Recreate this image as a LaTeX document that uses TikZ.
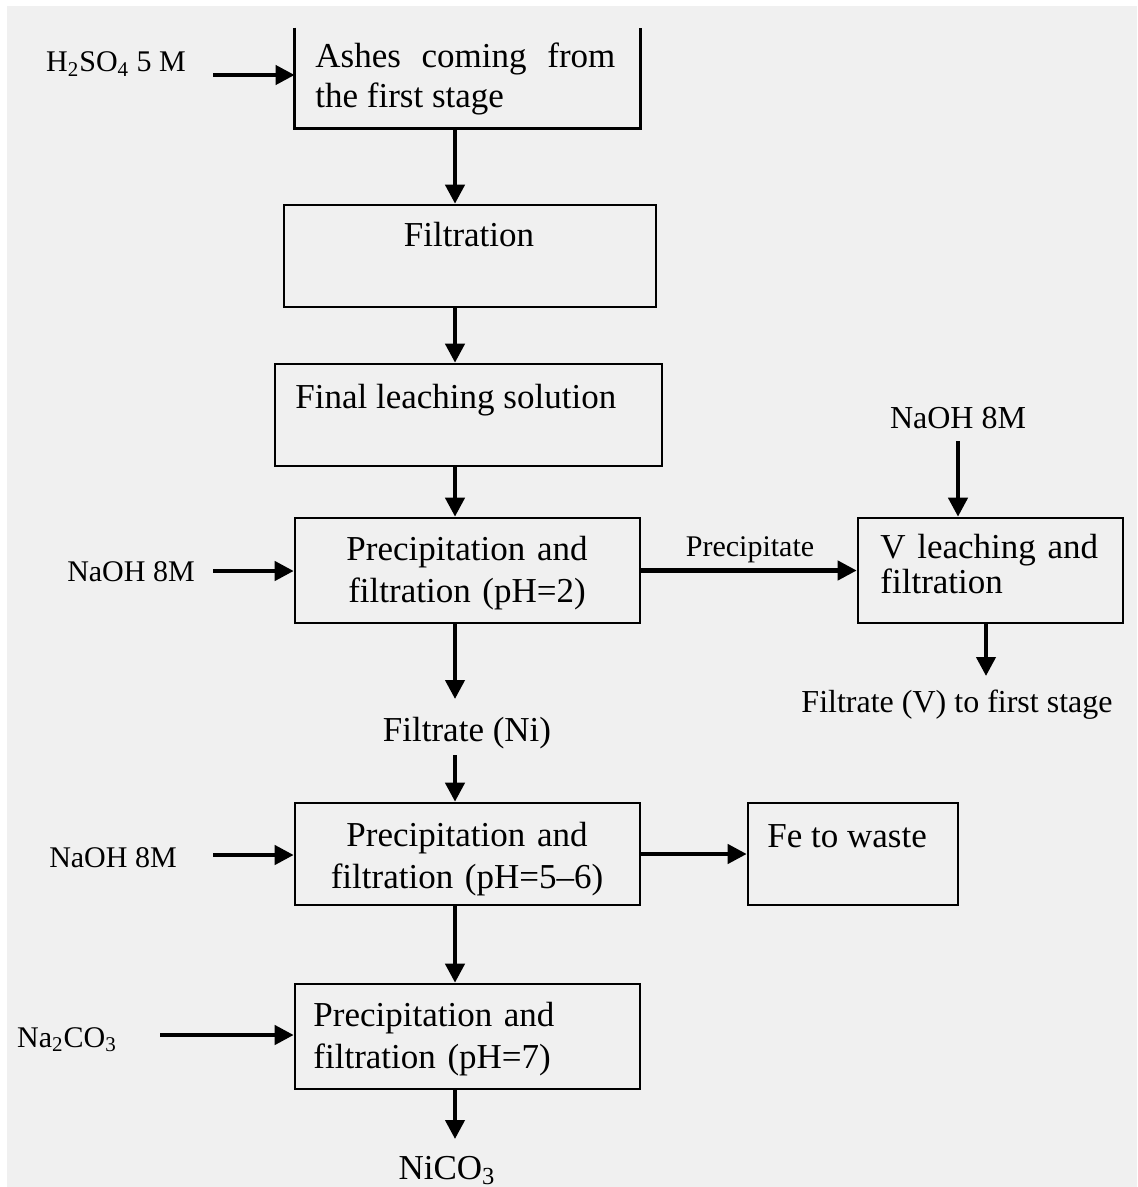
\documentclass[tikz,border=0pt]{standalone}
\usepackage{fontspec}
\setmainfont{Liberation Serif}
\usetikzlibrary{arrows.meta, calc}
\definecolor{panelgray}{HTML}{F0F0F0}

\tikzset{
  box/.style={draw, line width=1.3pt, inner sep=0pt},
  flow/.style={line width=2.1pt, -{Triangle[length=9.5pt, width=9.5pt]}},
  boxtext/.style={font=\fontsize{17.5}{21}\selectfont, inner sep=0pt},
  feedtext/.style={font=\fontsize{15}{18}\selectfont, inner sep=0pt}
}

\begin{document}
\begin{tikzpicture}[x=0.5pt, y=-0.5pt]
  \useasboundingbox (0,0) rectangle (1137,1187);
  \fill[panelgray] (7,6) rectangle (1137,1187);

  % process boxes
  \node[inner sep=0pt, minimum width=172.5pt, minimum height=50pt] (ashes) at (467.5,78) {};
  \draw[line width=1.3pt] (ashes.north west) -- (ashes.south west) -- (ashes.south east) -- (ashes.north east);
  \node[box, minimum width=186pt, minimum height=51pt] (filt) at (470,256) {};
  \node[box, minimum width=193.5pt, minimum height=51pt] (final) at (468.5,415) {};
  \node[box, minimum width=172.5pt, minimum height=52.5pt] (prectwo) at (467.5,570.5) {};
  \node[box, minimum width=132.5pt, minimum height=52.5pt] (vleach) at (990.5,570.5) {};
  \node[box, minimum width=172.5pt, minimum height=51pt] (precfive) at (467.5,854) {};
  \node[box, minimum width=105pt, minimum height=51pt] (fewaste) at (853,854) {};
  \node[box, minimum width=172.5pt, minimum height=52.5pt] (precseven) at (467.5,1036.5) {};

  % box texts
  \node[boxtext, anchor=base west, text width=150pt, align=justify, font=\fontsize{17.5}{20}\selectfont] (ashestxt) at (315,68) {Ashes coming from the first stage};
  \node[boxtext, anchor=base] (filttxt) at (469,247) {Filtration};
  \node[boxtext, anchor=base west] (finaltxt) at (295,408) {Final leaching solution};
  \node[boxtext, anchor=base, text width=172pt, align=center] (prectwotxt) at (467,560) {Precipitation and\\filtration (pH=2)};
  \node[boxtext, anchor=base west, text width=120pt, align=left, font=\fontsize{17.5}{17.5}\selectfont] (vleachtxt) at (880,558) {V leaching and\\filtration};
  \node[boxtext, anchor=base, text width=172pt, align=center] (precfivetxt) at (467,846) {Precipitation and\\filtration (pH=5–6)};
  \node[boxtext, anchor=base west] (fetxt) at (767,847) {Fe to waste};
  \node[boxtext, anchor=base west, text width=150pt, align=left] (precseventxt) at (313,1026) {Precipitation and\\filtration (pH=7)};

  % feeds and products
  \node[feedtext, anchor=base] (acid) at (116,72) {H\textsubscript{2}SO\textsubscript{4} 5 M};
  \node[feedtext, anchor=base] (sodaone) at (131,581) {NaOH 8M};
  \node[feedtext, anchor=base, font=\fontsize{16}{19}\selectfont] (sodatop) at (958,428) {NaOH 8M};
  \node[feedtext, anchor=base] (preclabel) at (750,556) {Precipitate};
  \node[feedtext, anchor=base, font=\fontsize{16}{19}\selectfont] (filtv) at (957,712) {Filtrate (V) to first stage};
  \node[boxtext, anchor=base] (filtni) at (467,741) {Filtrate (Ni)};
  \node[feedtext, anchor=base] (sodatwo) at (113,867) {NaOH 8M};
  \node[feedtext, anchor=base] (carbonate) at (67,1047) {Na\textsubscript{2}CO\textsubscript{3}};
  \node[boxtext, anchor=base] (nickel) at (447,1179) {NiCO\textsubscript{3}};

  % arrow start and end points
  \coordinate (spine) at (455,0);
  \coordinate (acidin) at (213,75);
  \coordinate (sodaonein) at (213,571);
  \coordinate (sodatwoin) at (213,855);
  \coordinate (carbin) at (160,1035);
  \coordinate (sodatopin) at (958,441);
  \coordinate (vout) at (986,676);
  \coordinate (niout) at (455,699);
  \coordinate (niin) at (455,755);
  \coordinate (nickelout) at (455,1139);

  % main line
  \draw[flow] (ashes.south -| spine) -- (filt.north -| spine);
  \draw[flow] (filt.south -| spine) -- (final.north -| spine);
  \draw[flow] (final.south -| spine) -- (prectwo.north -| spine);
  \draw[flow] (prectwo.south -| spine) -- (niout);
  \draw[flow] (niin) -- (precfive.north -| spine);
  \draw[flow] (precfive.south -| spine) -- (precseven.north -| spine);
  \draw[flow] (precseven.south -| spine) -- (nickelout);

  % side streams
  \draw[flow] (acidin) -- (acidin -| ashes.west);
  \draw[flow] (sodaonein) -- (sodaonein -| prectwo.west);
  \draw[flow] (sodatwoin) -- (sodatwoin -| precfive.west);
  \draw[flow] (carbin) -- (carbin -| precseven.west);
  \draw[flow] (prectwo.east) -- (vleach.west);
  \draw[flow] (sodatopin) -- (sodatopin |- vleach.north);
  \draw[flow] (vout |- vleach.south) -- (vout);
  \draw[flow] (precfive.east) -- (fewaste.west);
\end{tikzpicture}
\end{document}
